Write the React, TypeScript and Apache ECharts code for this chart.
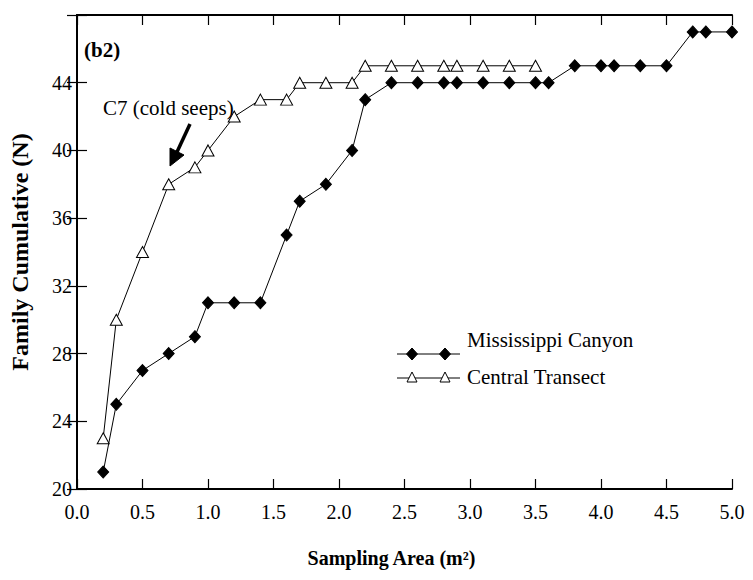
import React, { useEffect, useRef } from "react";
import * as echarts from "echarts";

const mcX = [0.2, 0.3, 0.5, 0.7, 0.9, 1.0, 1.2, 1.4, 1.6, 1.7, 1.9, 2.1, 2.2, 2.4, 2.6, 2.8, 2.9, 3.1, 3.3, 3.5, 3.6, 3.8, 4.0, 4.1, 4.3, 4.5, 4.7, 4.8, 5.0];
const mcY = [21, 25, 27, 28, 29, 31, 31, 31, 35, 37, 38, 40, 43, 44, 44, 44, 44, 44, 44, 44, 44, 45, 45, 45, 45, 45, 47, 47, 47];
const ctX = [0.2, 0.3, 0.5, 0.7, 0.9, 1.0, 1.2, 1.4, 1.6, 1.7, 1.9, 2.1, 2.2, 2.4, 2.6, 2.8, 2.9, 3.1, 3.3, 3.5];
const ctY = [23, 30, 34, 38, 39, 40, 42, 43, 43, 44, 44, 44, 45, 45, 45, 45, 45, 45, 45, 45];
const seriesNames = ["Mississippi Canyon", "Central Transect"];
const xTitle = "Sampling Area (m²)";
const yTitle = "Family Cumulative (N)";
const panelLabel = "(b2)";
const noteText = "C7 (cold seeps)";

const FONT = "Liberation Serif";

export default function App() {
  const ref = useRef<HTMLDivElement>(null);
  useEffect(() => {
    document.body.style.margin = "0";
    if (!ref.current) return;
    const chart = echarts.init(ref.current, null, { renderer: "svg" });
    const axisLine = { show: true, lineStyle: { color: "#000", width: 2 } };
    const tickIn = { show: true, inside: true, length: 10, lineStyle: { color: "#000", width: 1.2 } };
    const txt = (left: number, top: number, text: string, bold = false) => ({
      type: "text",
      left,
      top,
      style: { text, fontFamily: FONT, fontSize: 21, fontWeight: bold ? "bold" : "normal", fill: "#000" },
    });
    const diamond = (cx: number, cy: number) => ({
      type: "polygon",
      shape: { points: [[cx, cy - 6], [cx + 5.5, cy], [cx, cy + 6], [cx - 5.5, cy]] },
      style: { fill: "#000", stroke: "#000" },
      z: 100,
    });
    const tri = (cx: number, cy: number) => ({
      type: "polygon",
      shape: { points: [[cx, cy - 6], [cx + 5, cy + 4], [cx - 5, cy + 4]] },
      style: { fill: "#fff", stroke: "#000", lineWidth: 1 },
      z: 100,
    });
    chart.setOption({
      animation: false,
      backgroundColor: "#fff",
      grid: { left: 72, right: 21, top: 15, bottom: 91 },
      xAxis: [
        {
          type: "value",
          min: 0,
          max: 5,
          interval: 0.5,
          position: "bottom",
          axisLine,
          axisTick: tickIn,
          splitLine: { show: false },
          axisLabel: {
            color: "#000",
            fontFamily: FONT,
            fontSize: 20,
            margin: 13,
            formatter: (v: number) => v.toFixed(1),
          },
          name: xTitle,
          nameLocation: "middle",
          nameGap: 59,
          nameTextStyle: {
            color: "#000",
            fontFamily: FONT,
            fontSize: 20,
            fontWeight: "bold",
            padding: [0, 26, 0, 0],
          },
        },
        {
          type: "value",
          min: 0,
          max: 5,
          interval: 0.5,
          position: "top",
          axisLine,
          axisTick: tickIn,
          splitLine: { show: false },
          axisLabel: { show: false },
        },
      ],
      yAxis: [
        {
          type: "value",
          min: 20,
          max: 48,
          interval: 4,
          position: "left",
          axisLine,
          axisTick: tickIn,
          splitLine: { show: false },
          axisLabel: {
            color: "#000",
            fontFamily: FONT,
            fontSize: 20,
            margin: 5,
            formatter: (v: number) => (v === 48 ? "" : String(v)),
          },
          name: yTitle,
          nameLocation: "middle",
          nameGap: 45,
          nameTextStyle: { color: "#000", fontFamily: FONT, fontSize: 24, fontWeight: "bold" },
        },
        {
          type: "value",
          min: 20,
          max: 48,
          interval: 4,
          position: "right",
          axisLine,
          axisTick: tickIn,
          splitLine: { show: false },
          axisLabel: { show: false },
        },
      ],
      series: [
        {
          name: seriesNames[0],
          type: "line",
          data: mcX.map((x, i) => [x, mcY[i]]),
          symbol: "diamond",
          symbolSize: [11, 12],
          itemStyle: { color: "#000", borderColor: "#000" },
          lineStyle: { color: "#000", width: 1 },
          clip: false,
          z: 3,
        },
        {
          name: seriesNames[1],
          type: "line",
          data: ctX.map((x, i) => [x, ctY[i]]),
          symbol: "triangle",
          symbolSize: [12, 11],
          itemStyle: { color: "#fff", borderColor: "#000", borderWidth: 1 },
          lineStyle: { color: "#000", width: 1 },
          clip: false,
          z: 4,
        },
      ],
      graphic: [
        txt(84, 39, panelLabel, true),
        txt(103, 97, noteText),
        {
          type: "line",
          shape: { x1: 190, y1: 124, x2: 177, y2: 152 },
          style: { stroke: "#000", lineWidth: 3.5 },
        },
        {
          type: "polygon",
          shape: { points: [[170, 166], [170, 148], [184, 155]] },
          style: { fill: "#000", stroke: "#000" },
        },
        { type: "line", shape: { x1: 397, y1: 354, x2: 460, y2: 354 }, style: { stroke: "#000", lineWidth: 1 } },
        diamond(412, 354),
        diamond(445, 354),
        { type: "line", shape: { x1: 397, y1: 378, x2: 460, y2: 378 }, style: { stroke: "#000", lineWidth: 1 } },
        tri(412, 378),
        tri(445, 378),
        txt(467, 329, seriesNames[0]),
        txt(467, 366, seriesNames[1]),
      ],
    });
    return () => chart.dispose();
  }, []);
  return <div ref={ref} style={{ width: 753, height: 580 }} />;
}
